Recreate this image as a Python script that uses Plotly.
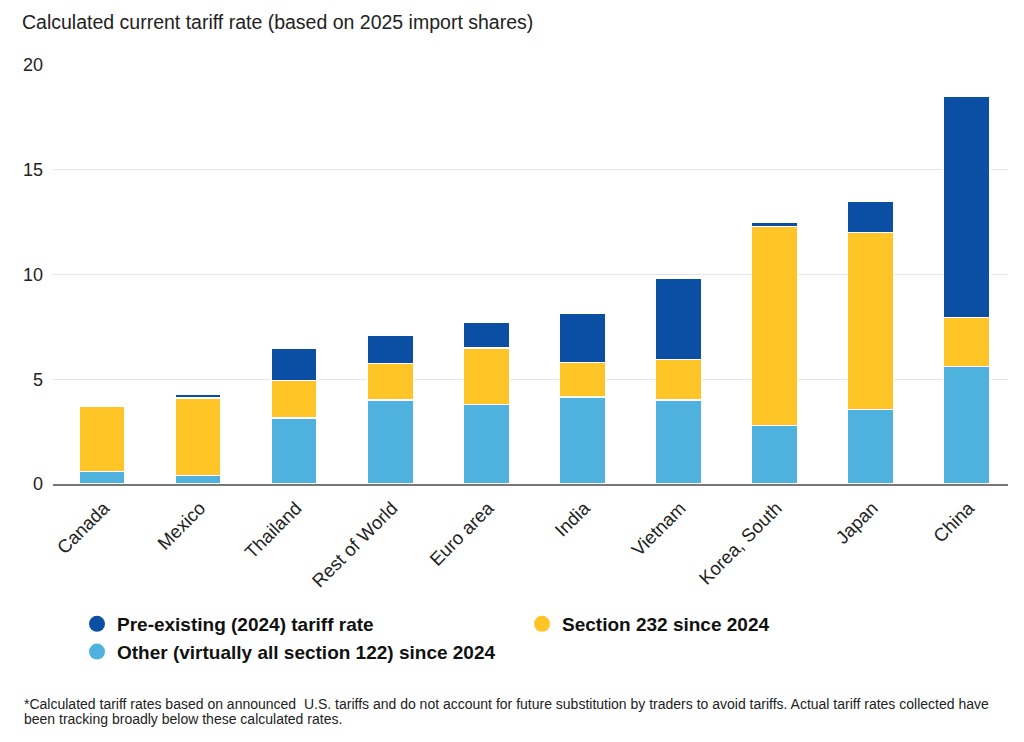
import plotly.graph_objects as go

categories = ["Canada", "Mexico", "Thailand", "Rest of World", "Euro area",
              "India", "Vietnam", "Korea, South", "Japan", "China"]
other_122 = [0.6, 0.4, 3.15, 4.0, 3.8, 4.15, 4.0, 2.8, 3.55, 5.6]
section_232 = [3.1, 3.7, 1.8, 1.75, 2.7, 1.65, 1.95, 9.5, 8.45, 2.35]
pre_existing = [0.0, 0.2, 1.55, 1.35, 1.2, 2.35, 3.85, 0.2, 1.5, 10.55]
y_ticks = [0, 5, 10, 15, 20]

names = {
    "pre": "Pre-existing (2024) tariff rate",
    "s232": "Section 232 since 2024",
    "other": "Other (virtually all section 122) since 2024",
}
colors = {"pre": "#0A4FA3", "s232": "#FFC526", "other": "#4FB2DE"}

footnote_lines = [
    "*Calculated tariff rates based on announced  U.S. tariffs and do not account for future substitution by traders to avoid tariffs. Actual tariff rates collected have",
    "been tracking broadly below these calculated rates.",
]

W, H = 1024, 742
L, R, T, B = 45, 24, 57, 266
FONT = "Liberation Sans, Arial, sans-serif"


def px_to_paper_x(px):
    return (px - L) / (W - L - R)


def px_to_paper_y(py):
    return 1 - (py - T) / (H - T - B)


fig = go.Figure()
for key, vals in [("other", other_122), ("s232", section_232), ("pre", pre_existing)]:
    fig.add_trace(go.Bar(
        x=categories, y=vals, name=names[key], showlegend=False,
        marker=dict(color=colors[key], line=dict(color="white", width=1.5)),
    ))

for key in ["pre", "s232", "other"]:
    fig.add_trace(go.Scatter(
        x=[None], y=[None], mode="markers", name=names[key],
        marker=dict(symbol="circle", size=20, color=colors[key]),
    ))

annotations = []
for i, line in enumerate(footnote_lines):
    annotations.append(dict(
        text=line, xref="paper", yref="paper",
        x=px_to_paper_x(14), xanchor="left", y=px_to_paper_y(696 + 15 * i), yanchor="middle",
        showarrow=False, align="left", font=dict(size=14, color="#222"),
    ))

fig.update_layout(
    width=W, height=H,
    barmode="stack", bargap=0.52,
    plot_bgcolor="white", paper_bgcolor="white",
    margin=dict(l=L, r=R, t=T, b=B, autoexpand=False),
    font=dict(family=FONT, color="#222"),
    title=dict(
        text="Calculated current tariff rate (based on 2025 import shares)",
        x=14 / W, xanchor="left", xref="container",
        y=1 - 14 / H, yanchor="middle", yref="container",
        font=dict(size=19.5, color="#222"),
    ),
    xaxis=dict(
        range=[-0.51, 9.43],
        tickangle=-45, tickfont=dict(size=18.5, color="#222"),
        showline=True, linecolor="#777", linewidth=2,
        ticks="", showgrid=False, ticklabelshift=2, ticklabelstandoff=4,
    ),
    yaxis=dict(
        range=[0, 20], tickvals=y_ticks, tickfont=dict(size=18, color="#222"),
        showgrid=True, gridcolor="#E6E6E6", gridwidth=1,
        zeroline=False, ticklabelstandoff=9,
    ),
    legend=dict(
        orientation="h", xref="container", yref="container",
        x=69 / W, xanchor="left", y=1 - 597 / H, yanchor="top",
        entrywidth=400, entrywidthmode="pixels", traceorder="normal",
        font=dict(size=19, color="#111", family=FONT, weight="bold"),
        itemsizing="trace", tracegroupgap=0,
    ),
    annotations=annotations,
)

fig.write_html("out.html")
